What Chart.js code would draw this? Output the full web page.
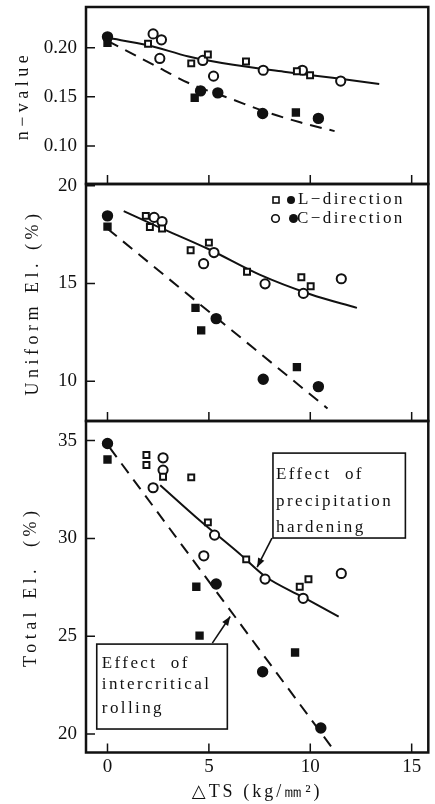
<!DOCTYPE html>
<html lang="en">
<head>
	<meta charset="UTF-8">
	<title>n-value, Uniform El., Total El. vs ΔTS</title>
	<style>
		body {
			margin: 0;
			background-color: white;
		}

		.wrap {
			position: relative;
			width: 435px;
			height: 804px;
		}

		.panel {
			position: absolute;
			left: 0;
		}
	</style>
	<script src="https://cdn.jsdelivr.net/npm/chart.js"></script>
</head>
<body>
<div class="wrap">
	<canvas id="n-chart" class="panel" style="top:0" width="435" height="200"></canvas>
	<canvas id="ue-chart" class="panel" style="top:164px" width="435" height="272"></canvas>
	<canvas id="te-chart" class="panel" style="top:400px" width="435" height="404"></canvas>
</div>
<script>
	// x: ΔTS (kg/mm2), shared by the three panels
	const xTicks = [0, 5, 10, 15];

	// n-value panel  [ΔTS, value]
	const nTicks = [0.10, 0.15, 0.20];
	const nLOpen = [[2.0, 0.204], [4.13, 0.184], [4.95, 0.193], [6.83, 0.186], [9.34, 0.176], [9.99, 0.172]];
	const nCOpen = [[2.25, 0.214], [2.66, 0.208], [2.58, 0.189], [4.70, 0.187], [5.23, 0.171], [7.68, 0.177], [9.61, 0.177], [11.50, 0.166]];
	const nLFilled = [[0, 0.205], [4.30, 0.149], [9.29, 0.134]];
	const nCFilled = [[0, 0.211], [4.59, 0.156], [5.44, 0.154], [7.65, 0.133], [10.40, 0.128]];
	const nFitOpen = [[0, 0.210], [2, 0.2025], [4, 0.191], [6.2, 0.1825], [8.7, 0.1755], [11.2, 0.169], [13.4, 0.163]];
	const nFitFilled = [[0, 0.207], [2.6, 0.179], [4, 0.164], [6.2, 0.147], [7.9, 0.134], [9.5, 0.124], [11.2, 0.115]];

	// Uniform El. (%) panel
	const ueTicks = [10, 15, 20];
	const ueLOpen = [[1.89, 18.46], [2.09, 17.89], [2.69, 17.81], [4.10, 16.70], [5.0, 17.09], [6.88, 15.60], [9.56, 15.32], [10.02, 14.86]];
	const ueCOpen = [[2.30, 18.38], [2.69, 18.17], [4.74, 16.01], [5.25, 16.58], [7.77, 14.98], [9.66, 14.49], [11.53, 15.24]];
	const ueLFilled = [[0, 17.91], [4.34, 13.75], [4.62, 12.6], [9.34, 10.72]];
	const ueCFilled = [[0, 18.46], [5.36, 13.2], [7.68, 10.10], [10.40, 9.72]];
	const ueFitOpen = [[0.8, 18.7], [2.5, 17.9], [5, 16.75], [7.5, 15.45], [10, 14.45], [12.3, 13.75]];
	const ueFitFilled = [[0, 17.8], [10.85, 8.6]];

	// Total El. (%) panel
	const teTicks = [20, 25, 30, 35];
	const teLOpen = [[1.92, 34.26], [1.92, 33.75], [2.74, 33.15], [4.13, 33.12], [4.95, 30.82], [6.84, 28.93], [9.48, 27.53], [9.91, 27.91]];
	const teCOpen = [[2.25, 32.59], [2.74, 34.12], [2.74, 33.49], [4.75, 29.11], [5.28, 30.17], [7.77, 27.92], [9.65, 26.94], [11.53, 28.21]];
	const teLFilled = [[0, 34.03], [4.38, 27.53], [4.54, 25.03], [9.25, 24.17]];
	const teCFilled = [[0, 34.85], [5.36, 27.67], [7.65, 23.19], [10.52, 20.31]];
	const teFitOpen = [[2.6, 32.72], [4.54, 30.93], [6.5, 29.23], [7.8, 28.04], [9.6, 27.02], [11.4, 26.0]];
	const teFitFilled = [[0.1, 34.65], [11.25, 19.06]];

	const legendRows = ['L\u2212direction', 'C\u2212direction'];

	const ink = '#111';
	const serif = "'Liberation Serif', 'DejaVu Serif', serif";
	Chart.defaults.font.family = serif;
	Chart.defaults.color = ink;

	function toPts(pairs) {
		return pairs.map(p => ({ x: p[0], y: p[1] }));
	}

	function markerSet(pairs, style, filled, r) {
		return {
			data: toPts(pairs),
			showLine: false,
			pointStyle: style,
			pointRadius: r,
			pointBorderWidth: 2,
			pointBorderColor: ink,
			pointBackgroundColor: filled ? ink : '#fff'
		};
	}

	function lineSet(pairs, dashed) {
		return {
			data: toPts(pairs),
			showLine: true,
			pointRadius: 0,
			borderColor: ink,
			borderWidth: 2,
			borderDash: dashed ? [12, 8] : [],
			cubicInterpolationMode: 'monotone'
		};
	}

	// fixed axis box, no extra room for labels, and spaced-out axis titles
	function fixScale(s, size, spacing) {
		if (s.isHorizontal()) {
			if (size) s.height = size;
		} else {
			s.width = size;
		}
		s.paddingTop = 0;
		s.paddingBottom = 0;
		s.paddingLeft = 0;
		s.paddingRight = 0;
		if (!s._spaced) {
			const drawTitle = s.drawTitle;
			s.drawTitle = function () {
				this.ctx.save();
				this.ctx.letterSpacing = spacing;
				drawTitle.call(this);
				this.ctx.restore();
			};
			s._spaced = true;
		}
	}

	// box round the plot and inward tick marks
	const framePlugin = {
		id: 'frame',
		afterDraw(chart, args, opts) {
			const { ctx, chartArea: a, scales: { x, y } } = chart;
			ctx.save();
			ctx.strokeStyle = ink;
			ctx.lineWidth = 1.5;
			ctx.beginPath();
			opts.yTicks.forEach(v => {
				const py = y.getPixelForValue(v);
				ctx.moveTo(a.left, py);
				ctx.lineTo(a.left + 9, py);
			});
			xTicks.forEach(v => {
				const px = x.getPixelForValue(v);
				ctx.moveTo(px, a.bottom);
				ctx.lineTo(px, a.bottom - 9);
			});
			ctx.stroke();
			ctx.lineWidth = 2.5;
			ctx.strokeRect(a.left, a.top, a.right - a.left, a.bottom - a.top);
			ctx.restore();
		}
	};

	// legend in the middle panel: two markers then the label
	const keyPlugin = {
		id: 'key',
		afterDraw(chart) {
			const { ctx, chartArea: a } = chart;
			ctx.save();
			ctx.strokeStyle = ink;
			ctx.lineWidth = 1.6;
			const y0 = a.top + 16;
			const y1 = a.top + 34.5;
			ctx.fillStyle = '#fff';
			ctx.fillRect(273, y0 - 3, 6, 6);
			ctx.strokeRect(273, y0 - 3, 6, 6);
			ctx.fillStyle = ink;
			ctx.beginPath();
			ctx.arc(291, y0, 4, 0, Math.PI * 2);
			ctx.fill();
			ctx.beginPath();
			ctx.arc(275.5, y1, 3.8, 0, Math.PI * 2);
			ctx.stroke();
			ctx.beginPath();
			ctx.arc(293.5, y1, 4.5, 0, Math.PI * 2);
			ctx.fill();
			ctx.font = '17px ' + serif;
			ctx.letterSpacing = '2.4px';
			ctx.textBaseline = 'middle';
			ctx.fillText(legendRows[0], 298, y0);
			ctx.fillText(legendRows[1], 297, y1);
			ctx.restore();
		}
	};

	// boxed notes with arrows in the bottom panel (positions in data units)
	const notes = [
		{ box: [8.16, 14.69, 34.36, 30.02], textX: 8.31, lines: ['Effect  of', 'precipitation', 'hardening'], lineY: [33.29, 31.87, 30.56],
			from: [8.11, 30.02], to: [7.38, 28.53] },
		{ box: [-0.53, 5.91, 24.60, 20.26], textX: -0.28, lines: ['Effect  of', 'intercritical', 'rolling'], lineY: [23.62, 22.51, 21.33],
			from: [5.17, 24.65], to: [6.05, 26.01] }
	];

	const notePlugin = {
		id: 'notes',
		afterDatasetsDraw(chart) {
			const { ctx, scales: { x, y } } = chart;
			ctx.save();
			ctx.strokeStyle = ink;
			ctx.lineWidth = 1.6;
			ctx.font = '17px ' + serif;
			ctx.letterSpacing = '2.4px';
			ctx.textBaseline = 'middle';
			notes.forEach(n => {
				const l = x.getPixelForValue(n.box[0]), r = x.getPixelForValue(n.box[1]);
				const t = y.getPixelForValue(n.box[2]), b = y.getPixelForValue(n.box[3]);
				ctx.fillStyle = '#fff';
				ctx.fillRect(l, t, r - l, b - t);
				ctx.strokeRect(l, t, r - l, b - t);
				ctx.fillStyle = ink;
				n.lines.forEach((s, i) => ctx.fillText(s, x.getPixelForValue(n.textX), y.getPixelForValue(n.lineY[i])));
				// arrow
				const x1 = x.getPixelForValue(n.from[0]), y1 = y.getPixelForValue(n.from[1]);
				const x2 = x.getPixelForValue(n.to[0]), y2 = y.getPixelForValue(n.to[1]);
				const ang = Math.atan2(y2 - y1, x2 - x1);
				ctx.beginPath();
				ctx.moveTo(x1, y1);
				ctx.lineTo(x2, y2);
				ctx.stroke();
				ctx.beginPath();
				ctx.moveTo(x2, y2);
				ctx.lineTo(x2 - 9 * Math.cos(ang) + 3.5 * Math.sin(ang), y2 - 9 * Math.sin(ang) - 3.5 * Math.cos(ang));
				ctx.lineTo(x2 - 9 * Math.cos(ang) - 3.5 * Math.sin(ang), y2 - 9 * Math.sin(ang) + 3.5 * Math.cos(ang));
				ctx.closePath();
				ctx.fill();
			});
			ctx.restore();
		}
	};

	function panel(id, cfg) {
		return new Chart(document.getElementById(id), {
			type: 'scatter',
			data: {
				datasets: [
					markerSet(cfg.lOpen, 'rect', false, 4.2),
					markerSet(cfg.cOpen, 'circle', false, 4.6),
					markerSet(cfg.lFilled, 'rect', true, 4.5),
					markerSet(cfg.cFilled, 'circle', true, 4.7),
					lineSet(cfg.fitOpen, false),
					lineSet(cfg.fitFilled, true)
				]
			},
			options: {
				responsive: false,
				animation: false,
				events: [],
				layout: { padding: cfg.pad },
				plugins: {
					legend: { display: false },
					tooltip: { enabled: false },
					frame: { yTicks: cfg.yTicks }
				},
				scales: {
					x: {
						type: 'linear',
						min: -1.06,
						max: 15.82,
						display: cfg.showX,
						afterBuildTicks: s => { s.ticks = xTicks.map(v => ({ value: v })); },
						afterFit: s => fixScale(s, cfg.showX ? 51.5 : 0, '3px'),
						grid: { display: false, drawTicks: false },
						border: { display: false },
						ticks: { padding: 3, font: { size: 19 }, maxRotation: 0, autoSkip: false },
						title: {
							display: cfg.showX,
							text: '\u25B3TS (kg/\u339C\u00B2)',
							font: { size: 18 },
							padding: { top: 0, bottom: 1 }
						}
					},
					y: {
						type: 'linear',
						min: cfg.yMin,
						max: cfg.yMax,
						afterBuildTicks: s => { s.ticks = cfg.yTicks.map(v => ({ value: v })); },
						afterFit: s => fixScale(s, 86, '4.5px'),
						grid: { display: false, drawTicks: false },
						border: { display: false },
						ticks: {
							padding: 9,
							font: { size: 19 },
							autoSkip: false,
							callback: v => cfg.fmt ? v.toFixed(cfg.fmt) : String(v)
						},
						title: {
							display: true,
							text: cfg.title,
							font: { size: 18 },
							padding: { top: cfg.titlePad }
						}
					}
				}
			},
			plugins: [framePlugin].concat(cfg.extra || [])
		});
	}

	panel('n-chart', {
		lOpen: nLOpen, cOpen: nCOpen, lFilled: nLFilled, cFilled: nCFilled,
		fitOpen: nFitOpen, fitFilled: nFitFilled,
		yTicks: nTicks, yMin: 0.0612, yMax: 0.2414, fmt: 2,
		title: 'n\u2212value', titlePad: 12,
		pad: { top: 7, right: 5, bottom: 16, left: 0 },
		showX: false
	});

	panel('ue-chart', {
		lOpen: ueLOpen, cOpen: ueCOpen, lFilled: ueLFilled, cFilled: ueCFilled,
		fitOpen: ueFitOpen, fitFilled: ueFitFilled,
		yTicks: ueTicks, yMin: 7.96, yMax: 20.09,
		title: 'Uniform El. (%)', titlePad: 22,
		pad: { top: 20, right: 5, bottom: 15, left: 0 },
		showX: false,
		extra: [keyPlugin]
	});

	panel('te-chart', {
		lOpen: teLOpen, cOpen: teCOpen, lFilled: teLFilled, cFilled: teCFilled,
		fitOpen: teFitOpen, fitFilled: teFitFilled,
		yTicks: teTicks, yMin: 19.06, yMax: 36.0,
		title: 'Total El.  (%)', titlePad: 20,
		pad: { top: 21, right: 5, bottom: 0, left: 0 },
		showX: true,
		extra: [notePlugin]
	});
</script>
</body>
</html>
